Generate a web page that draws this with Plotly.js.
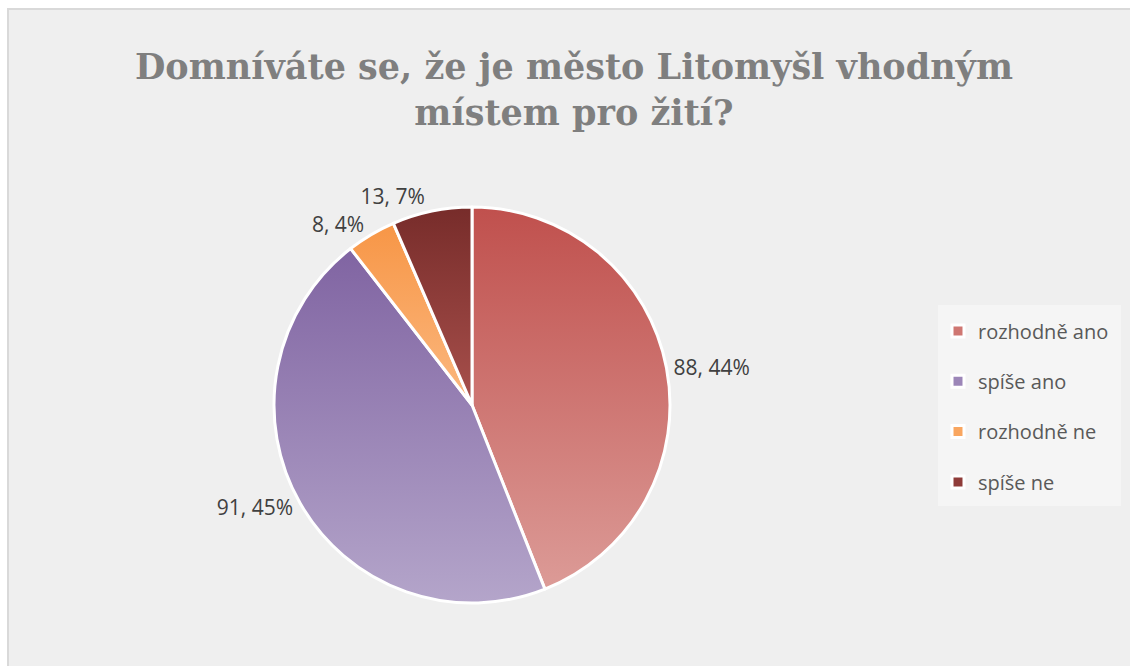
<!DOCTYPE html>
<html>
<head>
<meta charset="utf-8">
<script src="https://cdn.plot.ly/plotly-3.0.1.min.js"></script>
<style>
  html, body { margin: 0; padding: 0; background: #ffffff; }
  #chart { width: 1130px; height: 666px; }
</style>
</head>
<body>
<div id="chart"></div>
<script>
// Data
const categories = ['rozhodně ano', 'spíše ano', 'rozhodně ne', 'spíše ne'];
const counts = [88, 91, 8, 13];
const percentLabels = ['44%', '45%', '4%', '7%'];

const sliceColors = ['#cf7772', '#9c86b8', '#f9a660', '#8f3c39'];
const gradTop = ['#c0504d', '#8064a2', '#f79646', '#772c2a'];
const gradBottom = ['#dc9b97', '#b4a5ca', '#fbb880', '#a8504c'];

const W = 1130, H = 666;

const trace = {
  type: 'pie',
  labels: categories,
  values: counts,
  text: percentLabels,
  texttemplate: '%{value}, %{text}',
  textposition: 'outside',
  textinfo: 'text',
  sort: false,
  direction: 'clockwise',
  rotation: 0,
  hole: 0,
  marker: { colors: sliceColors, line: { color: '#ffffff', width: 3 } },
  outsidetextfont: { family: '"Open Sans", Lato, sans-serif', size: 21, color: '#404040' },
  domain: { x: [(472 - 198) / W, (472 + 198) / W], y: [(H - 603) / H, (H - 207) / H] },
  automargin: false,
  hoverinfo: 'label+value+percent'
};

const layout = {
  width: W,
  height: H,
  margin: { l: 0, r: 0, t: 0, b: 0 },
  paper_bgcolor: '#ffffff',
  plot_bgcolor: '#ffffff',
  title: {
    text: 'Domníváte se, že je město Litomyšl vhodným<br>místem pro žití?',
    font: { family: '"DejaVu Serif", "Liberation Serif", serif', size: 35, color: '#7f7f7f', weight: 'bold' },
    x: 574 / W,
    xanchor: 'center',
    y: 1 - 79 / H,
    yanchor: 'top'
  },
  shapes: [
    {
      type: 'rect', xref: 'paper', yref: 'paper', layer: 'below',
      x0: 8 / W, x1: 1.01, y0: -0.01, y1: 1 - 9 / H,
      fillcolor: '#efefef', line: { color: '#d9d9d9', width: 2 }
    },
    {
      type: 'rect', xref: 'paper', yref: 'paper', layer: 'below',
      x0: 938 / W, x1: 1121 / W, y0: 1 - 506 / H, y1: 1 - 305 / H,
      fillcolor: '#f5f5f5', line: { width: 0 }
    }
  ],
  showlegend: true,
  legend: {
    x: 938 / W, xanchor: 'left',
    y: 1 - 305 / H, yanchor: 'top',
    bgcolor: 'rgba(0,0,0,0)',
    borderwidth: 0,
    font: { family: '"Open Sans", Lato, sans-serif', size: 20, color: '#595959' },
    itemclick: false,
    itemdoubleclick: false
  }
};

Plotly.newPlot('chart', [trace], layout, { displayModeBar: false, staticPlot: true }).then(function (gd) {
  const ns = 'http://www.w3.org/2000/svg';
  // Vertical gradients on the slices, as in the reference
  const svg = gd.querySelector('svg.main-svg');
  const defs = document.createElementNS(ns, 'defs');
  categories.forEach(function (c, i) {
    const g = document.createElementNS(ns, 'linearGradient');
    g.setAttribute('id', 'sliceGrad' + i);
    g.setAttribute('x1', '0'); g.setAttribute('y1', '0');
    g.setAttribute('x2', '0'); g.setAttribute('y2', '1');
    [[0, gradTop[i]], [1, gradBottom[i]]].forEach(function (s) {
      const st = document.createElementNS(ns, 'stop');
      st.setAttribute('offset', s[0]);
      st.setAttribute('stop-color', s[1]);
      g.appendChild(st);
    });
    defs.appendChild(g);
  });
  svg.insertBefore(defs, svg.firstChild);
  gd.querySelectorAll('.pielayer g.slice').forEach(function (sl, i) {
    const p = sl.querySelector('path.surface');
    if (p) p.style.fill = 'url(#sliceGrad' + i + ')';
  });
  // The reference has no leader lines
  gd.querySelectorAll('.pielayer path.textline').forEach(function (p) { p.style.display = 'none'; });
  // Wider legend row spacing, as in the reference
  const scroll = gd.querySelector('.legend .scrollbox');
  if (scroll) scroll.removeAttribute('clip-path');
  gd.querySelectorAll('.legend .traces').forEach(function (it, i) {
    const m = /translate\(\s*([-\d.e]+)[ ,]+([-\d.e]+)/.exec(it.getAttribute('transform') || '');
    const x = m ? parseFloat(m[1]) : 0;
    it.setAttribute('transform', 'translate(' + x + ',' + (26 + 50.3 * i) + ')');
  });
});
</script>
</body>
</html>
